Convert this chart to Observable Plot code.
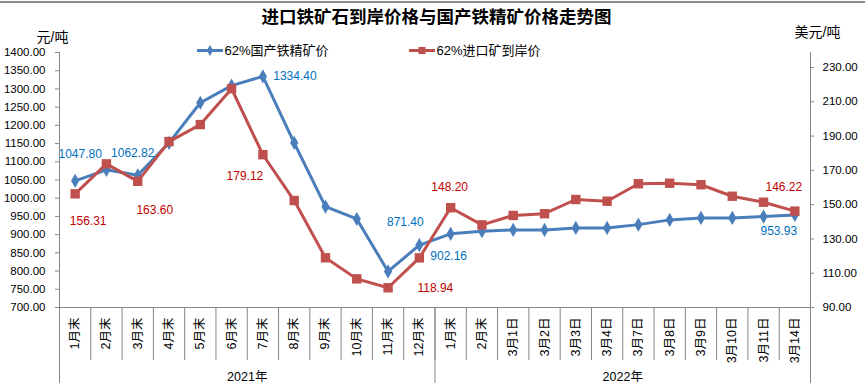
<!DOCTYPE html>
<html><head><meta charset="utf-8">
<script src="https://cdn.jsdelivr.net/npm/d3@7"></script>
<script src="https://cdn.jsdelivr.net/npm/@observablehq/plot@0.6"></script>
<style>
body{margin:0;background:#fff}
#wrap{position:relative;width:865px;height:385px}
#wrap svg{display:block}
#topline{position:absolute;left:0;top:1px;width:865px;height:2px;background:#8c8c8c}
</style>
</head><body><div id="wrap"><div id="chart"></div><div id="topline"></div></div>
<script>
// ---- data ----
const categories = ["1月末","2月末","3月末","4月末","5月末","6月末","7月末","8月末","9月末","10月末","11月末","12月末",
  "1月末","2月末","3月1日","3月2日","3月3日","3月4日","3月7日","3月8日","3月9日","3月10日","3月11日","3月14日"];
const years = ["2021年","2022年"];
const domestic = [1047.80,1078,1062.82,1152,1262,1309,1334.40,1152,977,943,799,871.40,
  902.16,909.5,913,913,918.5,918.5,927.5,940.5,946,946,949.5,953.93];
const imported = [156.31,173.8,163.60,186.8,196.7,217.6,179.12,152.4,119,106.7,101.5,118.94,
  148.20,138.2,143.7,144.7,153,152,162.2,162.5,161.6,154.9,151.4,146.22];
const leftTicks = d3.range(700, 1401, 50);
const rightTicks = d3.range(90, 231, 20);
const seriesNames = ["62%国产铁精矿价","62%进口矿到岸价"];
const title = "进口铁矿石到岸价格与国产铁精矿价格走势图";
const leftUnit = "元/吨", rightUnit = "美元/吨";
const domesticLabeled = [0,2,6,11,12,23];
const importedLabeled = [0,2,6,11,12,23];

// ---- options ----
const BLUE = "#4a7ebb", RED = "#c0504d", BLUE_T = "#0070c0", RED_T = "#c00000", GRAY = "#868686";
const LMIN = 700, LMAX = 1400, RMIN = 90, RMAX = 238.75;
const toLeft = r => LMIN + (r - RMIN) * (LMAX - LMIN) / (RMAX - RMIN);
const toRight = l => RMIN + (l - LMIN) * (RMAX - RMIN) / (LMAX - LMIN);
const xi = (d, i) => i + 0.5;

const dom = domestic.map((v, i) => ({i, v}));
const imp = imported.map((v, i) => ({i, v, l: toLeft(v)}));

const domPlace = {0:[5,-27],2:[-5,-22],6:[32,0],11:[-14,-23],12:[-2,22],23:[-16,16]};
const impPlace = {0:[13,27],2:[17,29],6:[-18,21],11:[16,30],12:[-1,-21],23:[-11,-24]};

const hline = {draw(ctx){ ctx.moveTo(-13,0); ctx.lineTo(13,0); }};
const FONT = "'Liberation Sans','Noto Sans CJK SC',sans-serif";

const labelMarks = [];
domesticLabeled.forEach(i => labelMarks.push(Plot.text([dom[i]], {x: d => d.i + 0.5, y: "v", text: d => d.v.toFixed(2),
  fill: BLUE_T, fontSize: 12, dx: domPlace[i][0], dy: domPlace[i][1]})));
importedLabeled.forEach(i => labelMarks.push(Plot.text([imp[i]], {x: d => d.i + 0.5, y: "l", text: d => d.v.toFixed(2),
  fill: RED_T, fontSize: 12, dx: impPlace[i][0], dy: impPlace[i][1]})));

const chart = Plot.plot({
  width: 865, height: 385,
  marginLeft: 59, marginRight: 55, marginTop: 52, marginBottom: 78,
  style: {fontFamily: FONT, fontSize: "11.5px", color: "#000", background: "#fff"},
  x: {type: "linear", domain: [0, categories.length], axis: null},
  y: {domain: [LMIN, LMAX], axis: null},
  marks: [
    // axis lines
    Plot.ruleX([0, categories.length], {stroke: GRAY, strokeWidth: 1}),
    Plot.ruleY([LMIN], {stroke: GRAY, strokeWidth: 1}),
    // left axis
    Plot.axisY({anchor: "left", ticks: leftTicks, tickSize: 4, tickPadding: 10, tickFormat: d => d.toFixed(2),
      label: null, stroke: GRAY, fill: "#000", fontSize: 11.5}),
    // right axis
    Plot.axisY({anchor: "right", ticks: rightTicks.map(toLeft), tickSize: 3, tickPadding: 9,
      tickFormat: d => toRight(d).toFixed(2), label: null, stroke: GRAY, fill: "#000", fontSize: 11.5}),
    // category separators
    Plot.axisX({ticks: d3.range(0, categories.length + 1), tickSize: 53, tickFormat: () => "", stroke: GRAY, label: null}),
    Plot.axisX({ticks: [0, 12, categories.length], tickSize: 76, tickFormat: () => "", stroke: GRAY, label: null}),
    // category labels
    Plot.axisX({ticks: categories.map(xi), tickSize: 0, tickPadding: 10, tickRotate: -90,
      tickFormat: d => categories[Math.floor(d)], label: null, fontSize: 12.5, fill: "#000"}),
    // year labels
    Plot.text(years, {x: (d, i) => i * 12 + 6, frameAnchor: "bottom", lineAnchor: "middle", dy: 69, fontSize: 12.5, fill: "#000"}),
    // lines
    Plot.line(dom, {x: d => d.i + 0.5, y: "v", stroke: BLUE, strokeWidth: 3}),
    Plot.dot(dom, {x: d => d.i + 0.5, y: "v", symbol: "diamond", fill: BLUE, r: 4.3}),
    Plot.line(imp, {x: d => d.i + 0.5, y: "l", stroke: RED, strokeWidth: 3}),
    Plot.dot(imp, {x: d => d.i + 0.5, y: "l", symbol: "square", fill: RED, r: 5.3}),
    ...labelMarks,
    // title & units
    Plot.text([title], {frameAnchor: "top", lineAnchor: "middle", dx: 1.5, dy: -35, fontSize: 17.5, fontWeight: "bold", fill: "#000"}),
    Plot.text([leftUnit], {frameAnchor: "top-left", lineAnchor: "middle", dx: -7, dy: -15, fontSize: 14, fill: "#000", textAnchor: "middle"}),
    Plot.text([rightUnit], {frameAnchor: "top-right", lineAnchor: "middle", dx: 7, dy: -20, fontSize: 14, fill: "#000", textAnchor: "middle"}),
    // legend
    Plot.dot([0], {frameAnchor: "top-left", dx: 150.5, dy: -2, symbol: hline, stroke: BLUE, strokeWidth: 3, r: 3}),
    Plot.dot([0], {frameAnchor: "top-left", dx: 150.5, dy: -2, symbol: "diamond", fill: BLUE, r: 3.3}),
    Plot.text([seriesNames[0]], {frameAnchor: "top-left", lineAnchor: "middle", dx: 165, dy: -2, textAnchor: "start", fontSize: 13, fill: "#000"}),
    Plot.dot([0], {frameAnchor: "top-left", dx: 362.5, dy: -2, symbol: hline, stroke: RED, strokeWidth: 3, r: 3}),
    Plot.dot([0], {frameAnchor: "top-left", dx: 362.5, dy: -2, symbol: "square", fill: RED, r: 4}),
    Plot.text([seriesNames[1]], {frameAnchor: "top-left", lineAnchor: "middle", dx: 377, dy: -2, textAnchor: "start", fontSize: 13, fill: "#000"})
  ]
});
document.getElementById("chart").appendChild(chart);
</script>
</body></html>
